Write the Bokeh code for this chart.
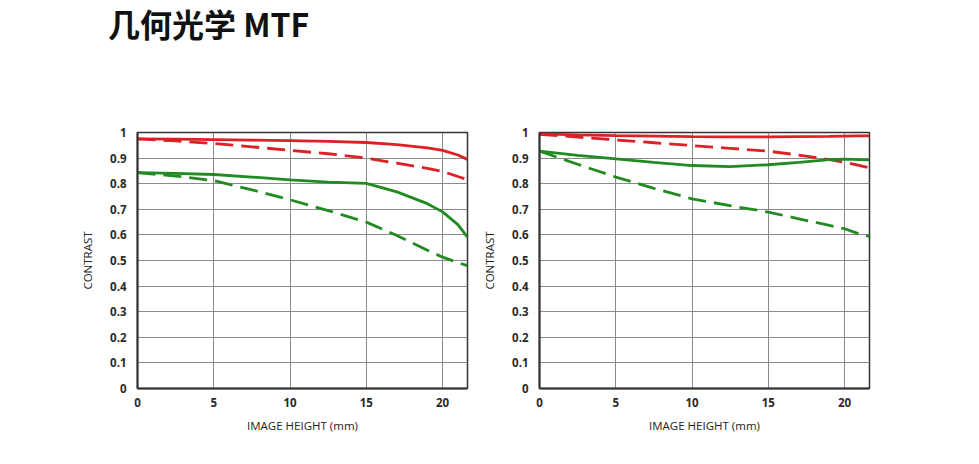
from bokeh.plotting import figure
from bokeh.layouts import column, row
from bokeh.models import Div, Label, Range1d, FixedTicker, CustomJSTickFormatter
from bokeh.embed import file_html
from bokeh.resources import INLINE

# ---- data ----
title_text = "几何光学 MTF"
x_max = 21.63
image_height = [0, 2.5, 5, 7.5, 10, 12.5, 15, 17, 19, 20, 21, 21.63]

mtf60_red_solid = [0.975, 0.974, 0.972, 0.970, 0.968, 0.965, 0.961, 0.953, 0.940, 0.930, 0.912, 0.895]
mtf60_red_dash = [0.975, 0.967, 0.957, 0.944, 0.930, 0.917, 0.900, 0.880, 0.860, 0.848, 0.828, 0.816]
mtf60_green_solid = [0.843, 0.840, 0.836, 0.826, 0.815, 0.806, 0.801, 0.768, 0.722, 0.690, 0.640, 0.591]
mtf60_green_dash = [0.843, 0.830, 0.812, 0.776, 0.737, 0.695, 0.650, 0.598, 0.540, 0.513, 0.492, 0.480]

mtf600_red_solid = [0.995, 0.991, 0.988, 0.986, 0.984, 0.983, 0.983, 0.984, 0.985, 0.986, 0.987, 0.987]
mtf600_red_dash = [0.993, 0.982, 0.971, 0.960, 0.949, 0.938, 0.927, 0.912, 0.894, 0.884, 0.871, 0.862]
mtf600_green_solid = [0.927, 0.911, 0.897, 0.883, 0.871, 0.867, 0.874, 0.883, 0.894, 0.896, 0.894, 0.893]
mtf600_green_dash = [0.927, 0.876, 0.826, 0.782, 0.741, 0.714, 0.689, 0.663, 0.637, 0.624, 0.603, 0.594]

x_ticks = [0, 5, 10, 15, 20]
y_ticks = [0, 0.1, 0.2, 0.3, 0.4, 0.5, 0.6, 0.7, 0.8, 0.9, 1.0]

RED = "#dc2026"
GREEN = "#218a21"
FONT = "Open Sans"


def make_plot(focal, series, border_left):
    p = figure(width=border_left + 330 + 8, height=64 + 256 + 60,
               x_range=Range1d(0, x_max), y_range=Range1d(0, 1),
               output_backend="svg", toolbar_location=None,
               min_border_left=border_left, min_border_right=8,
               min_border_top=64, min_border_bottom=60)
    p.background_fill_color = "white"
    p.border_fill_color = "white"
    p.outline_line_color = "#333333"
    p.outline_line_width = 1.5

    p.xaxis.ticker = FixedTicker(ticks=x_ticks)
    p.yaxis.ticker = FixedTicker(ticks=y_ticks)
    p.yaxis.formatter = CustomJSTickFormatter(code="return String(Math.round(tick*10)/10);")
    p.xgrid.ticker = FixedTicker(ticks=x_ticks)
    p.ygrid.ticker = FixedTicker(ticks=y_ticks)
    for g in (p.xgrid, p.ygrid):
        g.grid_line_color = "#8a8a8a"
        g.grid_line_width = 1

    for ax in (p.xaxis, p.yaxis):
        ax.axis_line_color = "#333333"
        ax.axis_line_width = 2
        ax.major_tick_out = 0
        ax.major_tick_in = 0
        ax.minor_tick_out = 0
        ax.minor_tick_in = 0
        ax.major_label_text_font = FONT
        ax.major_label_text_font_size = "11.5px"
        ax.major_label_text_font_style = "bold"
        ax.major_label_text_color = "#2a2a2a"
        ax.axis_label_text_font = FONT
        ax.axis_label_text_font_size = "11.5px"
        ax.axis_label_text_font_style = "normal"
        ax.axis_label_text_color = "#222222"
    p.xaxis.axis_label = "IMAGE HEIGHT (mm)"
    p.yaxis.axis_label = "CONTRAST"
    p.xaxis.major_label_standoff = 9
    p.xaxis.axis_label_standoff = 8
    p.yaxis.major_label_standoff = 11
    p.yaxis.axis_label_standoff = 12

    rs, rd, gs, gd = series
    p.line(image_height, rs, line_color=RED, line_width=2.8)
    p.line(image_height, rd, line_color=RED, line_width=2.8, line_dash="18 8")
    p.line(image_height, gs, line_color=GREEN, line_width=2.8)
    p.line(image_height, gd, line_color=GREEN, line_width=2.8, line_dash="18 8")

    p.add_layout(Label(x=x_max, y=1.0, text=focal, text_align="right",
                       text_baseline="alphabetic", y_offset=8,
                       text_font=FONT, text_font_size="10.5px",
                       text_font_style="bold", text_color="#222222"))
    return p


p1 = make_plot("60mm", (mtf60_red_solid, mtf60_red_dash, mtf60_green_solid, mtf60_green_dash), 137)
p2 = make_plot("600mm", (mtf600_red_solid, mtf600_red_dash, mtf600_green_solid, mtf600_green_dash), 64)

title = Div(text=title_text, width=600, height=68, margin=(0, 0, 0, 0),
            styles={"font-family": "'Noto Sans CJK SC'", "font-weight": "bold",
                    "font-size": "32px", "line-height": "1.3", "padding-left": "108px",
                    "padding-top": "3px", "color": "#111111"})

layout = column(title, row(p1, p2))
open("out.html", "w").write(file_html(layout, INLINE))
